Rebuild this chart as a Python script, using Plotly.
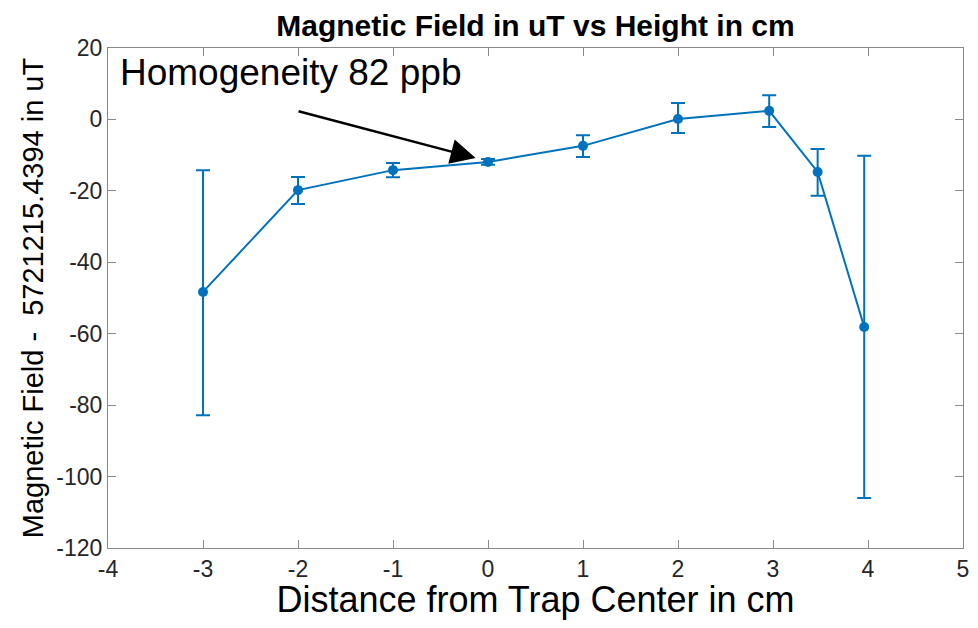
import plotly.graph_objects as go

# distance from trap center (cm) and field offset (uT)
height_cm = [-3, -2, -1, 0, 1, 2, 2.96, 3.47, 3.96]
field_ut = [-48.3, -19.8, -14.2, -11.9, -7.4, 0.1, 2.4, -14.7, -58.1]
err_plus = [34.1, 3.7, 2.0, 0.8, 3.0, 4.5, 4.4, 6.4, 47.9]
err_minus = [34.5, 3.9, 2.0, 0.8, 3.1, 3.9, 4.5, 6.7, 47.9]

x_ticks = [-4, -3, -2, -1, 0, 1, 2, 3, 4, 5]
x_labels = ['-4', '-3', '-2', '-1', '0', '1', '2', '3', '4', '5']
y_ticks = [20, 0, -20, -40, -60, -80, -100, -120]
y_labels = ['20', '0', '-20', '-40', '-60', '-80', '-100', '-120']

blue = '#0072BD'
axis_grey = '#8a8a8a'
sans = 'Liberation Sans, Arial, sans-serif'

fig = go.Figure()
fig.add_trace(go.Scatter(
    x=height_cm, y=field_ut, mode='lines+markers',
    line=dict(color=blue, width=2),
    marker=dict(color=blue, size=10),
    error_y=dict(type='data', symmetric=False, array=err_plus, arrayminus=err_minus,
                 color=blue, thickness=2, width=7),
    showlegend=False))

# arrow pointing at the central point
fig.add_annotation(x=-0.13, y=-10.8, ax=-2.01, ay=2.4, xref='x', yref='y',
                   axref='x', ayref='y', text='', showarrow=True,
                   arrowhead=2, arrowsize=2, arrowwidth=2.5, arrowcolor='black')
fig.add_annotation(x=-3.9, y=13.2, xref='x', yref='y', xanchor='left', yanchor='middle',
                   text='Homogeneity 82 ppb', showarrow=False,
                   font=dict(family=sans, size=37, color='black'))

# page body adds ~8px offset, so the figure is a bit smaller than the window
fig.update_layout(
    width=970, height=612,
    margin=dict(l=100, r=15, t=40, b=72),
    plot_bgcolor='white', paper_bgcolor='white',
    title=dict(text='<b>Magnetic Field in uT vs Height in cm</b>', xref='paper', x=0.5,
               xanchor='center', y=0.972, yanchor='middle', automargin=False,
               font=dict(family=sans, size=30, color='black')),
)
fig.update_xaxes(range=[-4, 5], tickvals=x_ticks, ticktext=x_labels, showgrid=False,
                 zeroline=False, automargin=False, ticklabeloverflow='allow',
                 showline=True, linecolor=axis_grey, linewidth=1, mirror='allticks',
                 ticks='inside', ticklen=8, tickcolor=axis_grey,
                 tickfont=dict(family=sans, size=23, color='#262626'),
                 title=dict(text='Distance from Trap Center in cm', standoff=12,
                            font=dict(family=sans, size=36, color='black')))
fig.update_yaxes(range=[-120, 20], tickvals=y_ticks, ticktext=y_labels, showgrid=False,
                 zeroline=False, automargin=False,
                 showline=True, linecolor=axis_grey, linewidth=1, mirror='allticks',
                 ticks='inside', ticklen=8, tickcolor=axis_grey,
                 tickfont=dict(family=sans, size=23, color='#262626'),
                 title=dict(text='Magnetic Field -  5721215.4394 in uT', standoff=4,
                            font=dict(family=sans, size=29, color='black')))

fig.write_html('out.html')
